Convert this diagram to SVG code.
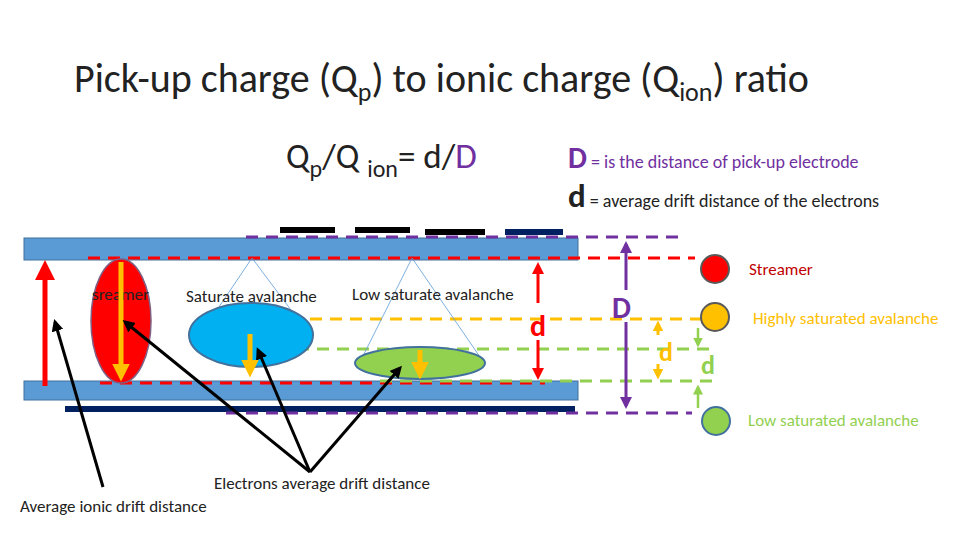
<svg xmlns="http://www.w3.org/2000/svg" width="960" height="540" viewBox="0 0 960 540">
<style>
text{font-family:Calibri,Carlito,"Liberation Sans",sans-serif}
.plate{fill:#5b9bd5;stroke:#41719c;stroke-width:1}
.dsh{fill:none;stroke-width:3;stroke-dasharray:12,8}
.thin{stroke:#5b9bd5;stroke-width:0.8}
</style>
<defs>
<marker id="ar" markerWidth="4" markerHeight="4" refX="2" refY="2" orient="auto" markerUnits="strokeWidth"><path d="M0,0L4,2L0,4z" fill="#f00"/></marker>
<marker id="ay" markerWidth="3.5" markerHeight="3.5" refX="2" refY="1.75" orient="auto" markerUnits="strokeWidth"><path d="M0,0L3.5,1.75L0,3.5z" fill="#ffc000"/></marker>
<marker id="ap" markerWidth="4" markerHeight="4" refX="3" refY="2" orient="auto" markerUnits="strokeWidth"><path d="M0,0L4,2L0,4z" fill="#7030a0"/></marker>
<marker id="ag" markerWidth="4" markerHeight="4" refX="3" refY="2" orient="auto" markerUnits="strokeWidth"><path d="M0,0L4,2L0,4z" fill="#92d050"/></marker>
<marker id="ak" markerWidth="4" markerHeight="4" refX="3" refY="2" orient="auto" markerUnits="strokeWidth"><path d="M0,0L4,2L0,4z" fill="#000"/></marker>
</defs>
<rect width="960" height="540" fill="#fff"/>
<text x="74" y="92" font-size="40" fill="#222">Pick-up charge (Q<tspan font-size="26" dy="9">p</tspan><tspan dy="-9">) to ionic charge (Q</tspan><tspan font-size="26" dy="9">ion</tspan><tspan dy="-9">) ratio</tspan></text>
<text x="286" y="168" font-size="35" fill="#222">Q<tspan font-size="24" dy="9">p</tspan><tspan dy="-9">/Q </tspan><tspan font-size="24" dy="9">ion</tspan><tspan dy="-9">= d/</tspan><tspan fill="#7030a0">D</tspan></text>
<text x="568" y="168" font-size="18" fill="#7030a0"><tspan font-size="30" font-weight="bold">D</tspan> =  is the distance of pick-up electrode</text>
<text x="568" y="207" font-size="18" fill="#222"><tspan font-size="33" font-weight="bold">d</tspan> = average drift distance of the electrons</text>
<g id="electrodes">
<rect x="280" y="227" width="55" height="6" fill="#000"/><rect x="355" y="227" width="55" height="6" fill="#000"/><rect x="425" y="229" width="60" height="6" fill="#000"/><rect x="505" y="229" width="58" height="6" fill="#002060"/>
<rect x="65" y="406" width="510" height="6" fill="#002060"/>
</g>
<g id="plates"><rect class="plate" x="24" y="238" width="554" height="22"/><rect class="plate" x="24" y="381" width="554" height="19"/></g>
<g id="levels">
<path class="dsh" stroke="#7030a0" d="M246,237H682M226,413H692"/>
<path class="dsh" stroke="#f00" d="M88,258H695M100,383H545"/>
<path class="dsh" stroke="#ffc000" stroke-width="2" d="M230,319H702"/>
<path class="dsh" stroke="#92d050" stroke-width="2" d="M297,349H716M380,381H716"/>
</g>
<g id="cones"><path class="thin" d="M252,258L198,338M252,258L306,330M412,258L360,362M412,258L480,357"/></g>
<g id="streamer"><ellipse cx="121" cy="321" rx="30" ry="62" fill="#f00" stroke="#7f6084" stroke-width="1.5"/><text x="92" y="300" font-size="17" fill="#222">sreamer</text></g>
<g id="saturate"><ellipse cx="251" cy="335" rx="62" ry="32" fill="#00b0f0" stroke="#41719c" stroke-width="2"/><text x="186" y="302" font-size="17" fill="#222">Saturate avalanche</text></g>
<g id="lowsat"><ellipse cx="420" cy="363" rx="65" ry="16" fill="#92d050" stroke="#41719c" stroke-width="2"/><text x="352" y="300" font-size="17" fill="#222">Low saturate avalanche</text></g>
<g id="connectors">
<line x1="45" y1="386" x2="45" y2="270" stroke="#f00" stroke-width="5" marker-end="url(#ar)"/>
<line x1="121" y1="262" x2="121" y2="374" stroke="#ffc000" stroke-width="5" marker-end="url(#ay)"/>
<line x1="250" y1="334" x2="250" y2="370" stroke="#ffc000" stroke-width="5" marker-end="url(#ay)"/>
<line x1="420" y1="350" x2="420" y2="372" stroke="#ffc000" stroke-width="5" marker-end="url(#ay)"/>
<line x1="538" y1="303" x2="538" y2="268" stroke="#f00" stroke-width="3" marker-end="url(#ar)"/>
<line x1="538" y1="340" x2="538" y2="374" stroke="#f00" stroke-width="3" marker-end="url(#ar)"/>
<line x1="626" y1="290" x2="626" y2="244" stroke="#7030a0" stroke-width="3" marker-end="url(#ap)"/>
<line x1="626" y1="322" x2="626" y2="406" stroke="#7030a0" stroke-width="3" marker-end="url(#ap)"/>
<line x1="658" y1="335" x2="658" y2="325" stroke="#ffc000" stroke-width="3" marker-end="url(#ay)"/>
<line x1="658" y1="364" x2="658" y2="375" stroke="#ffc000" stroke-width="3" marker-end="url(#ay)"/>
<line x1="698" y1="328" x2="698" y2="345" stroke="#92d050" stroke-width="2.5" marker-end="url(#ag)"/>
<line x1="698" y1="408" x2="698" y2="387" stroke="#92d050" stroke-width="2.5" marker-end="url(#ag)"/>
<line x1="103" y1="487" x2="55" y2="322" stroke="#000" stroke-width="3" marker-end="url(#ak)"/>
<line x1="310" y1="472" x2="125" y2="322" stroke="#000" stroke-width="3" marker-end="url(#ak)"/>
<line x1="310" y1="472" x2="258" y2="350" stroke="#000" stroke-width="3" marker-end="url(#ak)"/>
<line x1="310" y1="472" x2="400" y2="368" stroke="#000" stroke-width="3" marker-end="url(#ak)"/>
</g>
<g id="labels">
<text x="530" y="336" font-size="30" font-weight="bold" fill="#f00">d</text>
<text x="612" y="318" font-size="30" font-weight="bold" fill="#7030a0">D</text>
<text x="659" y="361" font-size="26" font-weight="bold" fill="#ffc000">d</text>
<text x="701" y="374" font-size="26" font-weight="bold" fill="#92d050">d</text>
<text x="214" y="489" font-size="17" fill="#222">Electrons average drift distance</text>
<text x="20" y="512" font-size="17" fill="#222">Average ionic drift distance</text>
</g>
<g id="legend">
<circle cx="715" cy="269" r="14" fill="#f00" stroke="#595959" stroke-width="2"/><text x="749" y="275" font-size="17" fill="#c00000">Streamer</text>
<circle cx="715" cy="317" r="14" fill="#ffc000" stroke="#595959" stroke-width="2"/><text x="753" y="324" font-size="17" fill="#ffc000">Highly saturated avalanche</text>
<circle cx="716" cy="421" r="14" fill="#92d050" stroke="#41719c" stroke-width="2"/><text x="748" y="426" font-size="17" fill="#92d050">Low saturated avalanche</text>
</g>
</svg>
